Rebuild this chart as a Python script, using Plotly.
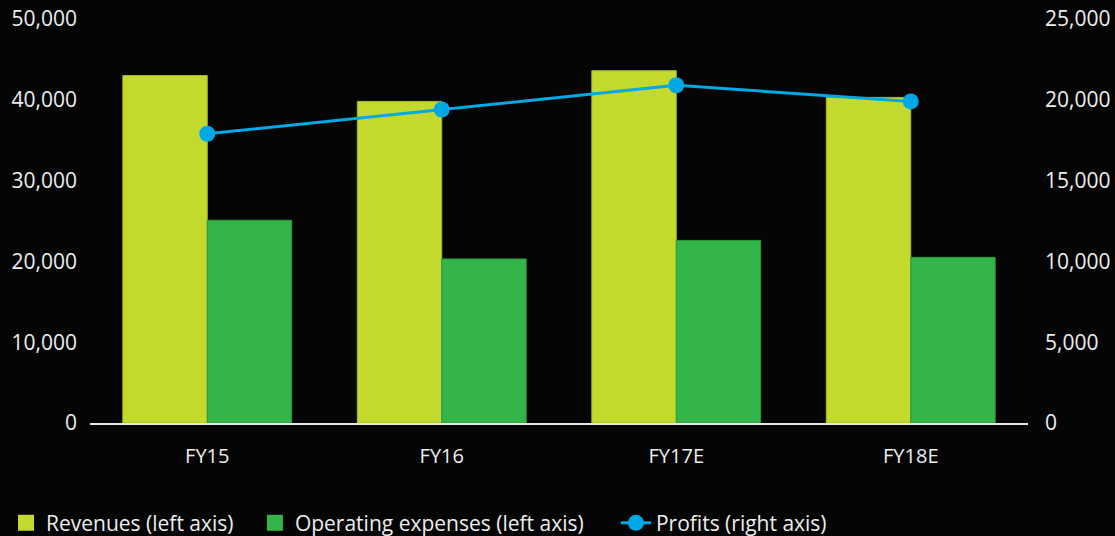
import plotly.graph_objects as go

categories = ["FY15", "FY16", "FY17E", "FY18E"]
revenues = [43000, 39800, 43600, 40300]
operating_expenses = [25100, 20300, 22600, 20500]
profits = [17900, 19400, 20900, 19900]

left_ticks = [0, 10000, 20000, 30000, 40000, 50000]
right_ticks = [0, 5000, 10000, 15000, 20000, 25000]

FONT = "Open Sans"
TXT = "#EDEDED"
C_REV = "#C4D92E"
C_OPEX = "#33B54A"
C_PROF = "#00A8E6"
NB = "\u00a0"

fig = go.Figure()
fig.add_trace(go.Bar(
    x=categories, y=revenues, name="Revenues (left axis)", showlegend=False,
    marker=dict(color=C_REV, line=dict(color="#A8BC22", width=1)),
))
fig.add_trace(go.Bar(
    x=categories, y=operating_expenses, name="Operating expenses (left axis)",
    showlegend=False,
    marker=dict(color=C_OPEX, line=dict(color="#2A9A3D", width=1)),
))
fig.add_trace(go.Scatter(
    x=categories, y=profits, name="Profits (right axis)", yaxis="y2",
    mode="lines+markers", showlegend=False,
    line=dict(color=C_PROF, width=3),
    marker=dict(color=C_PROF, size=16),
))
# legend entries (larger square swatches like the reference)
fig.add_trace(go.Scatter(
    x=[None], y=[None], mode="markers", name="Revenues (left axis)" + NB * 3,
    marker=dict(symbol="square", color=C_REV, size=19),
))
fig.add_trace(go.Scatter(
    x=[None], y=[None], mode="markers", name="Operating expenses (left axis)" + NB * 5,
    marker=dict(symbol="square", color=C_OPEX, size=19),
))
fig.add_trace(go.Scatter(
    x=[None], y=[None], mode="lines+markers", name="Profits (right axis)",
    line=dict(color=C_PROF, width=3), marker=dict(color=C_PROF, size=16),
))

fig.update_layout(
    width=1115, height=536,
    margin=dict(l=90, r=87, t=19, b=113),
    paper_bgcolor="#050505", plot_bgcolor="#050505",
    font=dict(family=FONT, size=21, color=TXT),
    barmode="group", bargap=0.28, bargroupgap=0,
    showlegend=True,
    legend=dict(
        orientation="h", xref="container", yref="container",
        x=0.0054, xanchor="left", y=0.024, yanchor="middle",
        font=dict(family=FONT, size=21, color=TXT),
        bgcolor="rgba(0,0,0,0)", itemsizing="trace",
    ),
    xaxis=dict(
        showgrid=False, showline=True, linecolor="#E6E6E6", linewidth=2,
        ticks="", ticklabelstandoff=14, tickfont=dict(size=20),
        automargin=False,
    ),
    yaxis=dict(
        range=[0, 50000], tickvals=left_ticks, tickformat=",",
        showgrid=False, zeroline=False, showline=False, ticks="",
        ticklabelstandoff=12, automargin=False,
    ),
    yaxis2=dict(
        range=[0, 25000], tickvals=right_ticks, tickformat=",",
        overlaying="y", side="right",
        showgrid=False, zeroline=False, showline=False, ticks="",
        ticklabelstandoff=16, automargin=False,
    ),
)

fig.write_html(
    "out.html",
    config={"displayModeBar": False},
    post_script="document.body.style.margin='0';document.body.style.background='#050505';",
)
